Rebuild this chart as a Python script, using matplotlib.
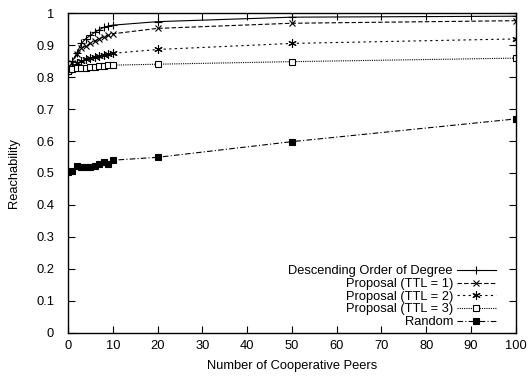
import matplotlib
matplotlib.use("Agg")
import matplotlib.pyplot as plt

plt.rcParams['font.family'] = ['Liberation Sans', 'DejaVu Sans']

# =========================================================
# DATA
# =========================================================
peers = [0, 1, 2, 3, 4, 5, 6, 7, 8, 9, 10, 20, 50, 100]

descending = [0.82, 0.85, 0.876, 0.905, 0.92, 0.93, 0.94, 0.948, 0.955, 0.959, 0.962, 0.973, 0.987, 0.99]
ttl1 = [0.82, 0.845, 0.872, 0.89, 0.897, 0.905, 0.913, 0.92, 0.926, 0.93, 0.935, 0.952, 0.968, 0.976]
ttl2 = [0.82, 0.832, 0.843, 0.85, 0.855, 0.86, 0.863, 0.866, 0.869, 0.872, 0.874, 0.886, 0.905, 0.919]
ttl3 = [0.82, 0.825, 0.827, 0.828, 0.829, 0.83, 0.831, 0.833, 0.834, 0.836, 0.837, 0.84, 0.848, 0.859]
random_sel = [0.502, 0.507, 0.522, 0.52, 0.518, 0.52, 0.522, 0.528, 0.533, 0.528, 0.54, 0.549, 0.598, 0.669]

FS = 9.3

# =========================================================
# PLOT
# =========================================================
fig = plt.figure(figsize=(5.29, 3.76), dpi=100)
ax = fig.add_axes([0.1285, 0.1144, 0.8465, 0.851])

lw = 0.8
ax.plot(peers, descending, color="black", lw=lw, ls="-", marker="+", ms=6, mew=0.8,
        label="Descending Order of Degree")
ax.plot(peers, ttl1, color="black", lw=lw, ls=(0, (4, 2)), marker="x", ms=5, mew=0.8,
        label="Proposal (TTL = 1)")
ax.plot(peers, ttl2, color="black", lw=lw, ls=(0, (2, 3)), marker=(6, 2, 0), ms=6, mew=0.8,
        label="Proposal (TTL = 2)")
ax.plot(peers, ttl3, color="black", lw=lw, ls=(0, (1, 1)), marker="s", ms=5, mew=0.8,
        mfc="white", label="Proposal (TTL = 3)")
ax.plot(peers, random_sel, color="black", lw=lw, ls=(0, (5, 2, 1, 2)), marker="s", ms=5,
        mew=0.8, label="Random")

ax.set_xlim(0, 100)
ax.set_ylim(0, 1)
ax.set_xticks(range(0, 101, 10))
ax.set_yticks([i / 10 for i in range(11)])
ax.set_yticklabels(["0", "0.1", "0.2", "0.3", "0.4", "0.5", "0.6", "0.7", "0.8", "0.9", "1"])
ax.tick_params(direction="in", top=True, right=True, labelsize=FS, length=5, width=0.8)
ax.tick_params(axis="x", pad=5)
ax.tick_params(axis="y", pad=10)
for s in ax.spines.values():
    s.set_linewidth(1.0)

ax.set_xlabel("Number of Cooperative Peers", fontsize=FS, labelpad=5.5)
ax.set_ylabel("Reachability", fontsize=FS, labelpad=11.5)

leg = ax.legend(loc="lower right", bbox_to_anchor=(0.955, 0.015), markerfirst=False,
                frameon=False, fontsize=FS, handlelength=3.0, handletextpad=0.3,
                labelspacing=0.05, borderaxespad=0, borderpad=0)

fig.savefig("out.png", dpi=100)
